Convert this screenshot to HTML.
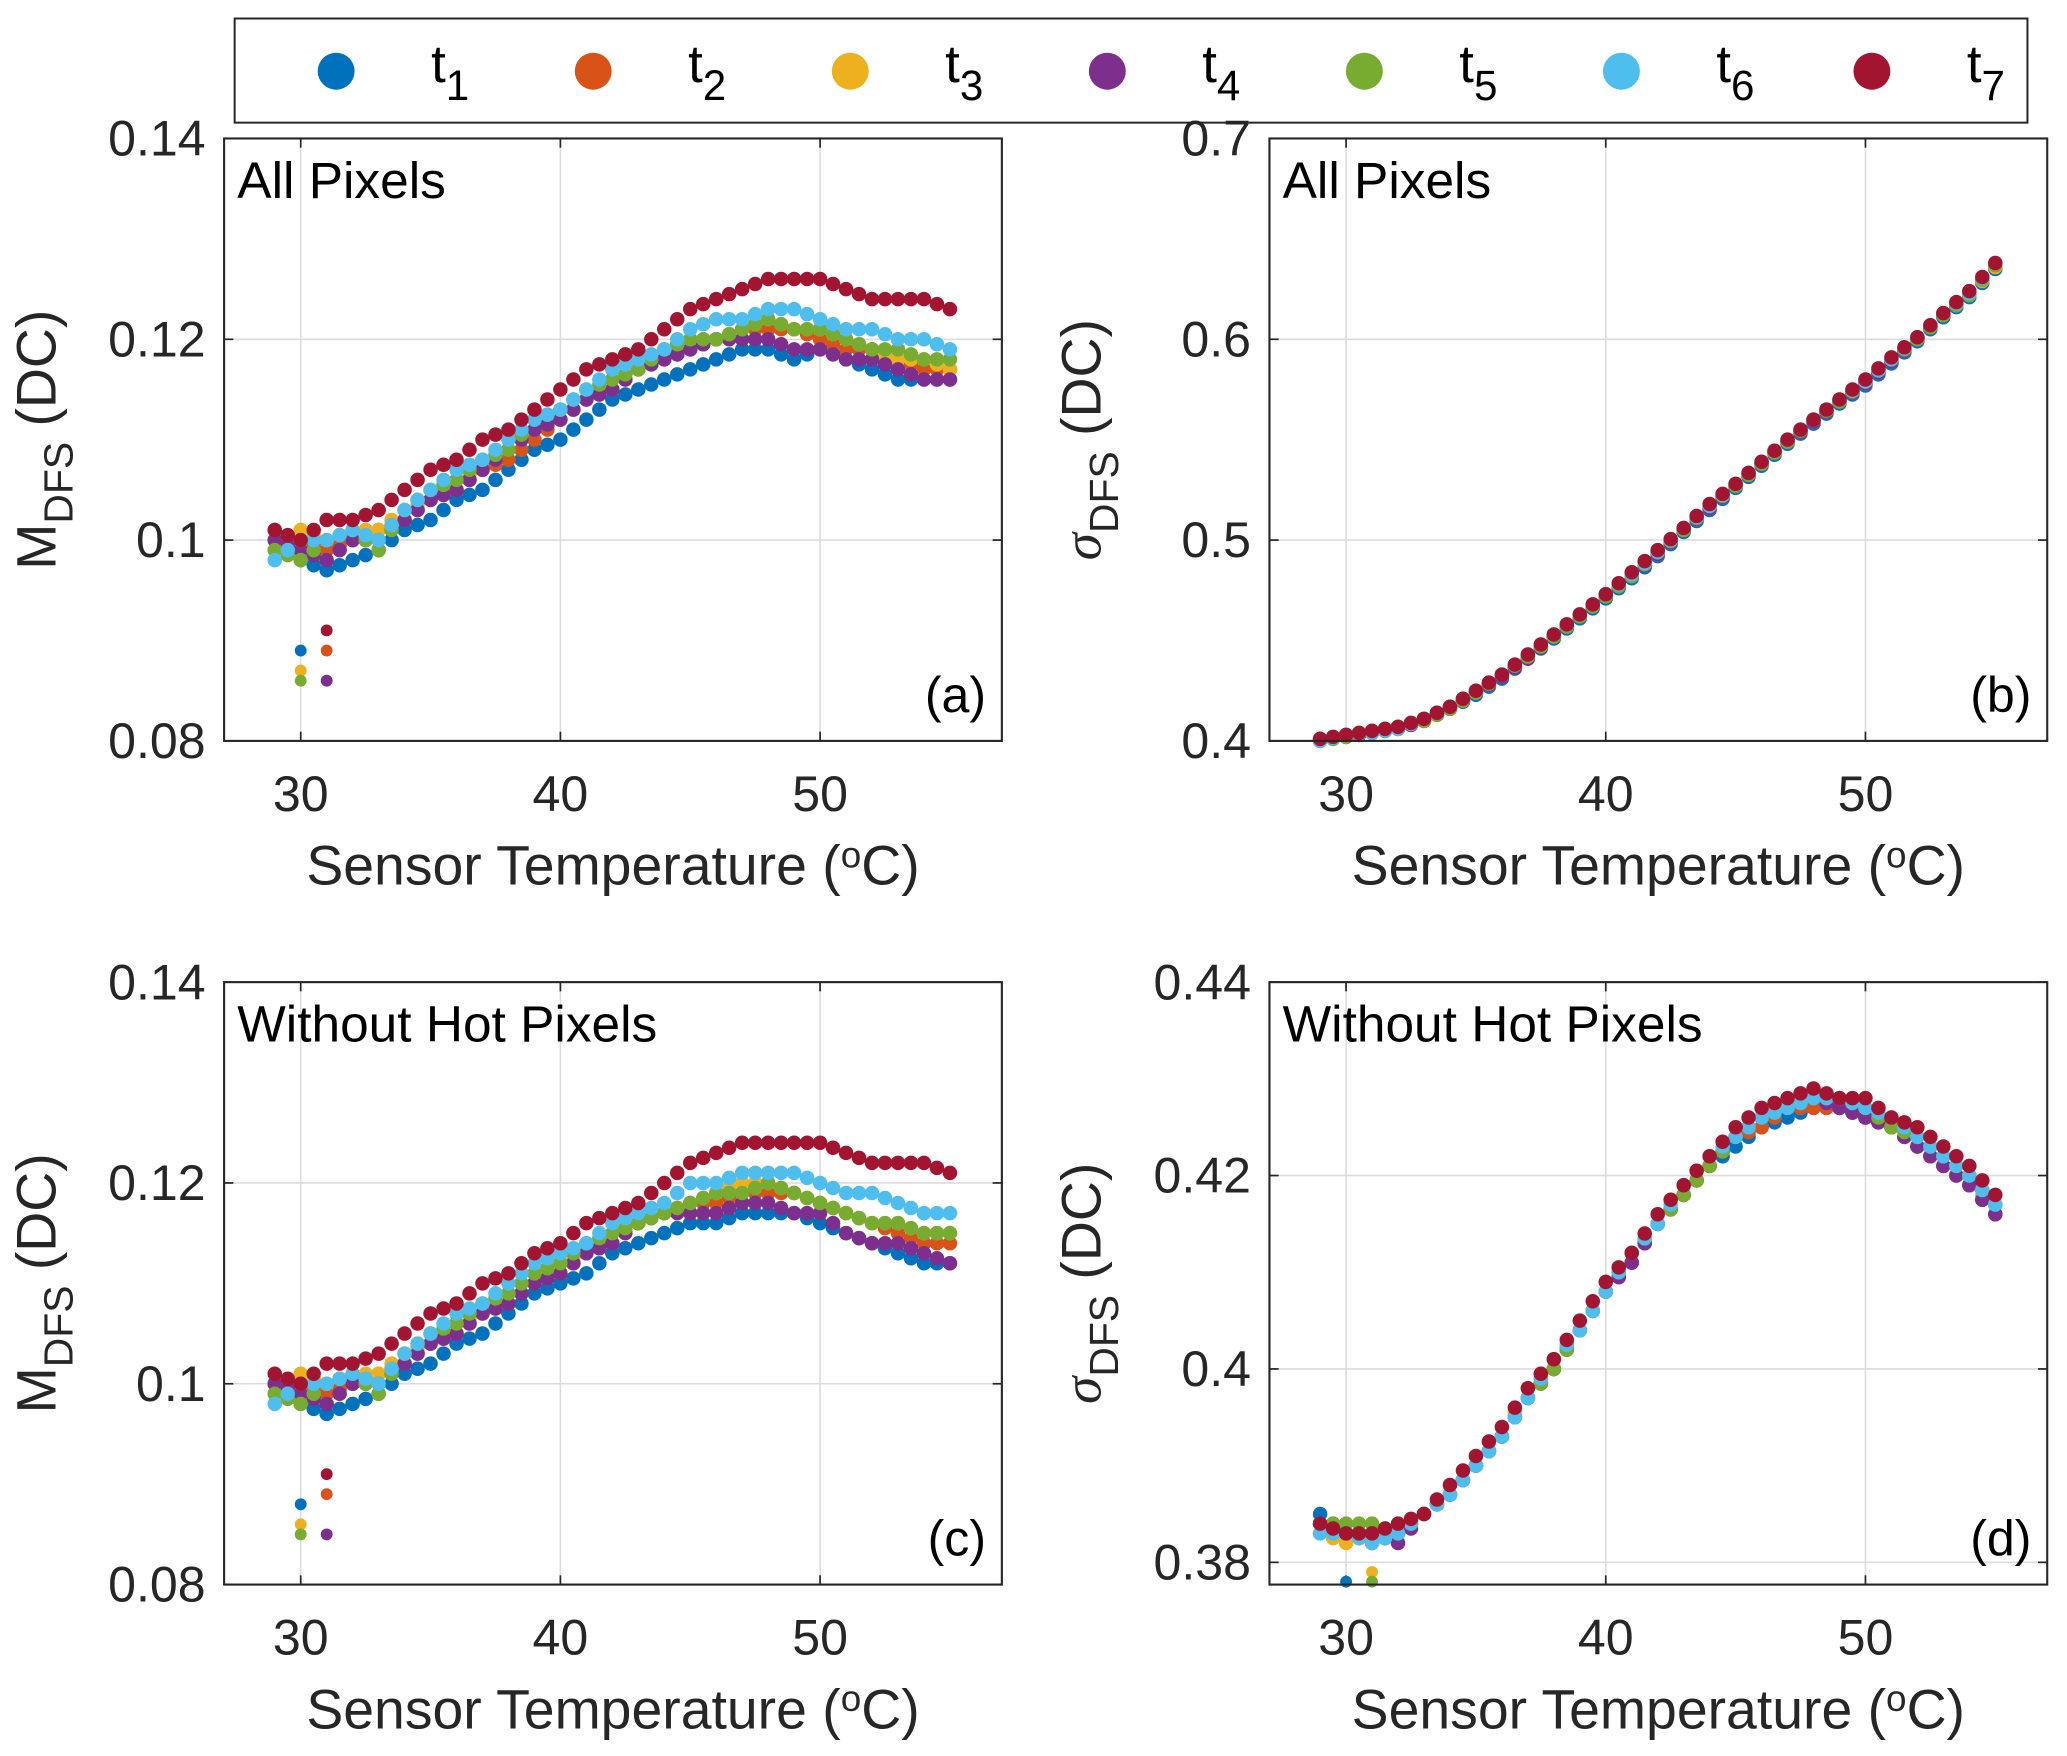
<!DOCTYPE html>
<html><head><meta charset="utf-8"><style>
html,body{margin:0;padding:0;background:#fff;}
svg{display:block;font-family:"Liberation Sans",Helvetica,Arial,sans-serif;}
</style></head><body>
<svg id="fig" width="2067" height="1756" viewBox="0 0 1568 1332" xmlns="http://www.w3.org/2000/svg">
<g id="legend">
<rect x="178" y="14" width="1360" height="79" fill="#fff" stroke="#262626" stroke-width="1.5"/>
</g>
</svg>
<script>
const temps = [29,30,31,32,33,34,35,36,37,38,39,40,41,42,43,44,45,46,47,48,49,50,51,52,53,54,55];
const seriesNames = ["t1","t2","t3","t4","t5","t6","t7"];
const colors = ["#0072BD","#D95319","#EDB120","#7E2F8E","#77AC30","#4DBEEE","#A2142F"];
const xTicks = [30,40,50];
const yTicksA = [0.08,0.1,0.12,0.14];
const yTickLabelsA = ["0.08","0.1","0.12","0.14"];
const yTicksB = [0.4,0.5,0.6,0.7];
const yTickLabelsB = ["0.4","0.5","0.6","0.7"];
const yTicksD = [0.38,0.4,0.42,0.44];
const yTickLabelsD = ["0.38","0.4","0.42","0.44"];

const a_t1 = [0.101,0.098,0.097,0.098,0.099,0.101,0.102,0.104,0.105,0.107,0.109,0.110,0.112,0.114,0.115,0.116,0.117,0.118,0.119,0.119,0.118,0.119,0.118,0.117,0.116,0.116,0.116];
const a_t2 = [0.100,0.100,0.099,0.100,0.101,0.102,0.104,0.105,0.107,0.108,0.110,0.112,0.114,0.115,0.117,0.118,0.119,0.120,0.121,0.121,0.121,0.120,0.119,0.119,0.118,0.117,0.117];
const a_t3 = [0.099,0.101,0.100,0.101,0.101,0.103,0.104,0.106,0.107,0.109,0.111,0.112,0.114,0.116,0.117,0.118,0.119,0.120,0.121,0.122,0.121,0.121,0.120,0.119,0.118,0.118,0.117];
const a_t4 = [0.100,0.099,0.098,0.100,0.100,0.102,0.104,0.105,0.107,0.109,0.111,0.112,0.114,0.115,0.117,0.118,0.119,0.120,0.120,0.120,0.119,0.119,0.118,0.118,0.117,0.116,0.116];
const a_t5 = [0.099,0.098,0.100,0.101,0.099,0.103,0.105,0.106,0.108,0.109,0.112,0.113,0.115,0.116,0.117,0.119,0.120,0.120,0.121,0.122,0.121,0.121,0.120,0.119,0.119,0.118,0.118];
const a_t6 = [0.098,0.100,0.100,0.101,0.100,0.103,0.105,0.107,0.108,0.110,0.112,0.113,0.115,0.117,0.118,0.119,0.121,0.122,0.122,0.123,0.123,0.122,0.121,0.121,0.120,0.120,0.119];
const a_t7 = [0.101,0.100,0.102,0.102,0.103,0.105,0.107,0.108,0.110,0.111,0.113,0.115,0.117,0.118,0.119,0.121,0.123,0.124,0.125,0.126,0.126,0.126,0.125,0.124,0.124,0.124,0.123];
const aOutT = [30,30,30,31,31,31];
const aOutV = [0.089,0.087,0.086,0.091,0.089,0.086];

const c_t1 = [0.100,0.098,0.097,0.098,0.099,0.101,0.102,0.104,0.105,0.107,0.109,0.110,0.111,0.113,0.114,0.115,0.116,0.116,0.117,0.117,0.117,0.116,0.115,0.114,0.113,0.112,0.112];
const c_t2 = [0.100,0.100,0.099,0.100,0.101,0.102,0.104,0.105,0.107,0.108,0.110,0.111,0.113,0.114,0.116,0.117,0.118,0.118,0.119,0.119,0.119,0.118,0.117,0.116,0.115,0.114,0.114];
const c_t3 = [0.099,0.101,0.100,0.101,0.101,0.103,0.104,0.106,0.107,0.109,0.111,0.112,0.113,0.115,0.116,0.117,0.118,0.119,0.120,0.120,0.119,0.118,0.117,0.116,0.116,0.115,0.115];
const c_t4 = [0.100,0.099,0.098,0.100,0.100,0.102,0.104,0.105,0.107,0.108,0.110,0.111,0.113,0.114,0.116,0.117,0.117,0.117,0.118,0.118,0.117,0.117,0.115,0.114,0.114,0.113,0.112];
const c_t5 = [0.099,0.098,0.100,0.101,0.099,0.103,0.105,0.106,0.108,0.109,0.111,0.112,0.114,0.115,0.116,0.117,0.118,0.119,0.119,0.120,0.119,0.118,0.117,0.116,0.116,0.115,0.115];
const c_t6 = [0.098,0.100,0.100,0.101,0.100,0.103,0.105,0.107,0.108,0.110,0.112,0.113,0.114,0.116,0.117,0.118,0.120,0.120,0.121,0.121,0.121,0.120,0.119,0.119,0.118,0.117,0.117];
const c_t7 = [0.101,0.100,0.102,0.102,0.103,0.105,0.107,0.108,0.110,0.111,0.113,0.114,0.116,0.117,0.118,0.120,0.122,0.123,0.124,0.124,0.124,0.124,0.123,0.122,0.122,0.122,0.121];
const cOutT = [30,30,30,31,31,31];
const cOutV = [0.088,0.086,0.085,0.091,0.089,0.085];

const b_t1 = [0.400,0.402,0.404,0.406,0.410,0.416,0.423,0.431,0.441,0.451,0.461,0.471,0.481,0.492,0.504,0.515,0.526,0.537,0.548,0.558,0.568,0.577,0.588,0.599,0.611,0.621,0.635];
const b_t2 = [0.401,0.402,0.404,0.407,0.410,0.416,0.424,0.432,0.442,0.452,0.462,0.472,0.482,0.493,0.505,0.516,0.527,0.538,0.549,0.559,0.569,0.578,0.589,0.600,0.612,0.622,0.636];
const b_t3 = [0.400,0.403,0.405,0.406,0.411,0.417,0.424,0.432,0.442,0.452,0.462,0.472,0.483,0.493,0.505,0.516,0.527,0.538,0.549,0.559,0.569,0.578,0.589,0.600,0.612,0.622,0.636];
const b_t4 = [0.401,0.402,0.404,0.406,0.410,0.416,0.424,0.432,0.441,0.452,0.462,0.472,0.482,0.493,0.505,0.516,0.527,0.538,0.549,0.559,0.569,0.578,0.589,0.600,0.612,0.623,0.637];
const b_t5 = [0.400,0.402,0.405,0.407,0.410,0.416,0.424,0.433,0.442,0.452,0.462,0.472,0.482,0.494,0.505,0.517,0.527,0.538,0.549,0.560,0.569,0.579,0.590,0.600,0.612,0.622,0.637];
const b_t6 = [0.400,0.403,0.404,0.406,0.411,0.417,0.425,0.433,0.443,0.453,0.463,0.473,0.483,0.494,0.506,0.517,0.528,0.539,0.550,0.560,0.570,0.579,0.590,0.601,0.613,0.623,0.638];
const b_t7 = [0.401,0.403,0.405,0.407,0.411,0.417,0.425,0.433,0.443,0.453,0.463,0.473,0.484,0.495,0.506,0.518,0.528,0.539,0.550,0.560,0.570,0.580,0.591,0.601,0.613,0.624,0.638];

const d_t1 = [0.385,0.383,0.383,0.383,0.385,0.387,0.390,0.393,0.397,0.400,0.404,0.408,0.411,0.415,0.418,0.421,0.423,0.425,0.426,0.427,0.427,0.426,0.425,0.423,0.421,0.419,0.416];
const d_t2 = [0.384,0.383,0.382,0.383,0.385,0.387,0.390,0.393,0.397,0.400,0.404,0.408,0.411,0.415,0.418,0.421,0.424,0.425,0.427,0.427,0.427,0.426,0.425,0.423,0.421,0.419,0.416];
const d_t3 = [0.383,0.382,0.383,0.383,0.385,0.387,0.390,0.393,0.398,0.401,0.404,0.408,0.411,0.415,0.418,0.421,0.424,0.426,0.427,0.428,0.428,0.427,0.425,0.423,0.421,0.419,0.417];
const d_t4 = [0.384,0.383,0.383,0.382,0.385,0.387,0.390,0.393,0.397,0.400,0.404,0.408,0.411,0.415,0.418,0.421,0.424,0.426,0.427,0.428,0.427,0.426,0.425,0.423,0.421,0.419,0.416];
const d_t5 = [0.384,0.384,0.384,0.383,0.385,0.387,0.390,0.393,0.397,0.400,0.404,0.408,0.412,0.415,0.418,0.421,0.424,0.426,0.427,0.428,0.428,0.427,0.425,0.424,0.422,0.420,0.417];
const d_t6 = [0.383,0.383,0.382,0.383,0.385,0.387,0.390,0.393,0.397,0.401,0.404,0.408,0.412,0.415,0.419,0.422,0.424,0.426,0.427,0.428,0.428,0.427,0.426,0.424,0.422,0.420,0.417];
const d_t7 = [0.384,0.383,0.383,0.384,0.385,0.388,0.391,0.394,0.398,0.401,0.405,0.409,0.412,0.416,0.419,0.422,0.425,0.427,0.428,0.429,0.428,0.428,0.426,0.425,0.423,0.421,0.418];
const dOutT = [30,31,31];
const dOutV = [0.378,0.379,0.378];

const NS = "http://www.w3.org/2000/svg";
const svg = document.getElementById("fig");
function mk(tag, attrs, parent){
  const e = document.createElementNS(NS, tag);
  for (const k in attrs) e.setAttribute(k, attrs[k]);
  (parent||svg).appendChild(e);
  return e;
}

const legend = document.getElementById("legend");
const legX = [255,450,645,840,1035,1230,1420];
seriesNames.forEach((n,i)=>{
  const g = mk("g",{},legend);
  
  
  mk("circle",{cx:legX[i],cy:54,r:14,fill:colors[i]},g);
  const t = mk("text",{x:legX[i]+72,y:62,"font-size":40,fill:"#000"},g);
  t.textContent = "t";
  const s = mk("tspan",{dy:14,"font-size":32},t);
  s.textContent = String(i+1);
});

function panel(cfg){
  const {name,L,T,W,H,xmin,xmax,ymin,ymax,yTicks,yLabels,series,outT,outV,title,tag,sigma} = cfg;
  const g = mk("g",{});
  
  
  const X = v => L + (v - xmin) / (xmax - xmin) * W;
  const Y = v => T + H - (v - ymin) / (ymax - ymin) * H;
  xTicks.forEach(v=>{
    mk("line",{x1:X(v),x2:X(v),y1:T,y2:T+H,stroke:"#dcdcdc","stroke-width":1.2},g);
    mk("line",{x1:X(v),x2:X(v),y1:T+H,y2:T+H-7,stroke:"#262626","stroke-width":1.3},g);
    mk("line",{x1:X(v),x2:X(v),y1:T,y2:T+7,stroke:"#262626","stroke-width":1.3},g);
    const t = mk("text",{x:X(v),y:T+H+53,"font-size":38,"text-anchor":"middle",fill:"#262626"},g);
    
    
    t.textContent = v;
  });
  yTicks.forEach((v,i)=>{
    mk("line",{x1:L,x2:L+W,y1:Y(v),y2:Y(v),stroke:"#dcdcdc","stroke-width":1.2},g);
    mk("line",{x1:L,x2:L+7,y1:Y(v),y2:Y(v),stroke:"#262626","stroke-width":1.3},g);
    mk("line",{x1:L+W,x2:L+W-7,y1:Y(v),y2:Y(v),stroke:"#262626","stroke-width":1.3},g);
    const t = mk("text",{x:L-14,y:Y(v)+13,"font-size":38,"text-anchor":"end",fill:"#262626"},g);
    
    
    t.textContent = yLabels[i];
  });
  series.forEach((arr,si)=>{
    const sg = mk("g",{fill:colors[si]},g);
    
    
    arr.forEach((v,k)=>{
      const c = mk("circle",{cx:X(temps[k]),cy:Y(v),r:5.5},sg);
      
      
      if (k < arr.length-1){
        const c2 = mk("circle",{cx:X((temps[k]+temps[k+1])/2),cy:Y((v+arr[k+1])/2),r:5.5},sg);
        
        
      }
    });
  });
  if (outT){
    outT.forEach((tv,k)=>{
      const c = mk("circle",{cx:X(tv),cy:Y(outV[k]),r:4.5,fill:colors[(k*2)%7]},g);
      
      
    });
  }
  mk("rect",{x:L,y:T,width:W,height:H,fill:"none",stroke:"#262626","stroke-width":1.6},g);
  const tt = mk("text",{x:L+10,y:T+45,"font-size":39,fill:"#000"},g);
  
  
  tt.textContent = title;
  const tg = mk("text",{x:L+W-12,y:T+H-22,"font-size":38,"text-anchor":"end",fill:"#000"},g);
  
  
  tg.textContent = tag;
  const xl = mk("text",{x:L+W/2,y:T+H+109,"font-size":42,"text-anchor":"middle",fill:"#262626"},g);
  
  
  xl.innerHTML = 'Sensor Temperature (<tspan dy="-13" font-size="28">o</tspan><tspan dy="13">C)</tspan>';
  const yx = L - 128, yy = T + H/2;
  const yl = mk("text",{x:yx,y:yy,"font-size":42,"text-anchor":"middle",fill:"#262626",transform:`rotate(-90 ${yx} ${yy})`},g);
  
  
  yl.innerHTML = (sigma ? '<tspan font-family="Liberation Serif" font-style="italic">σ</tspan>' : 'M') +
    '<tspan dy="13" font-size="31">DFS</tspan><tspan dy="-13"> (DC)</tspan>';
}

panel({name:"panel-a",L:170,T:105,W:590,H:457,xmin:27.05,xmax:57,ymin:0.08,ymax:0.14,yTicks:yTicksA,yLabels:yTickLabelsA,
  series:[a_t1,a_t2,a_t3,a_t4,a_t5,a_t6,a_t7],outT:aOutT,outV:aOutV,title:"All Pixels",tag:"(a)",sigma:false});
panel({name:"panel-b",L:963,T:105,W:590,H:457,xmin:27.05,xmax:57,ymin:0.4,ymax:0.7,yTicks:yTicksB,yLabels:yTickLabelsB,
  series:[b_t1,b_t2,b_t3,b_t4,b_t5,b_t6,b_t7],title:"All Pixels",tag:"(b)",sigma:true});
panel({name:"panel-c",L:170,T:745,W:590,H:457,xmin:27.05,xmax:57,ymin:0.08,ymax:0.14,yTicks:yTicksA,yLabels:yTickLabelsA,
  series:[c_t1,c_t2,c_t3,c_t4,c_t5,c_t6,c_t7],outT:cOutT,outV:cOutV,title:"Without Hot Pixels",tag:"(c)",sigma:false});
panel({name:"panel-d",L:963,T:745,W:590,H:457,xmin:27.05,xmax:57,ymin:0.3777,ymax:0.44,yTicks:yTicksD,yLabels:yTickLabelsD,
  series:[d_t1,d_t2,d_t3,d_t4,d_t5,d_t6,d_t7],outT:dOutT,outV:dOutV,title:"Without Hot Pixels",tag:"(d)",sigma:true});
</script>
</body></html>
